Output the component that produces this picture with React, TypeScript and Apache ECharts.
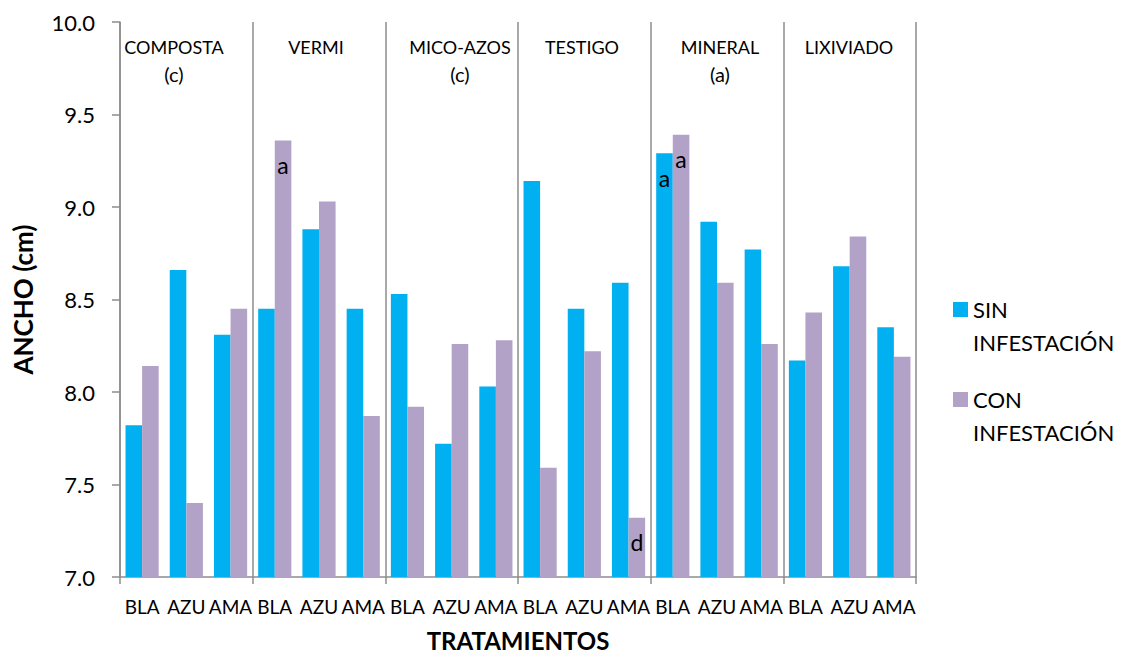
import React, { useEffect, useRef } from "react";
import * as echarts from "echarts";

const categories = ["BLA", "AZU", "AMA", "BLA", "AZU", "AMA", "BLA", "AZU", "AMA", "BLA", "AZU", "AMA", "BLA", "AZU", "AMA", "BLA", "AZU", "AMA"];
const sinValues = [7.82, 8.66, 8.31, 8.45, 8.88, 8.45, 8.53, 7.72, 8.03, 9.14, 8.45, 8.59, 9.29, 8.92, 8.77, 8.17, 8.68, 8.35];
const conValues = [8.14, 7.40, 8.45, 9.36, 9.03, 7.87, 7.92, 8.26, 8.28, 7.59, 8.22, 7.32, 9.39, 8.59, 8.26, 8.43, 8.84, 8.19];
const sinLetters: Record<number, string> = { 12: "a" };
const conLetters: Record<number, string> = { 3: "a", 11: "d", 12: "a" };
const groupNames = ["COMPOSTA", "VERMI", "MICO-AZOS", "TESTIGO", "MINERAL", "LIXIVIADO"];
const groupLetters = ["(c)", "", "(c)", "", "(a)", ""];
const yTicks = ["7.0", "7.5", "8.0", "8.5", "9.0", "9.5", "10.0"];
const seriesNames = ["SIN INFESTACIÓN", "CON INFESTACIÓN"];

const FONT = "Lato";
const SIN_COLOR = "#00B0F0";
const CON_COLOR = "#B3A2C7";
const AXIS_COLOR = "#8c8c8c";

const groupX = [174, 316, 460, 582, 720, 849];

function withLetters(values: number[], letters: Record<number, string>) {
  return values.map((v, i) =>
    letters[i]
      ? {
          value: v,
          label: {
            show: true,
            formatter: letters[i],
            position: "insideTop",
            distance: 13,
            fontSize: 23,
            color: "#000",
            fontFamily: FONT,
          },
        }
      : v
  );
}

export default function App() {
  const ref = useRef<HTMLDivElement>(null);
  useEffect(() => {
    if (!ref.current) return;
    const chart = echarts.init(ref.current, undefined, { renderer: "svg" });
    const graphics: any[] = [];
    groupNames.forEach((g, i) => {
      graphics.push({
        type: "text",
        x: groupX[i],
        y: 47,
        style: { text: g, fontSize: 18, fontFamily: FONT, fill: "#000", textAlign: "center", textVerticalAlign: "middle" },
      });
      if (groupLetters[i]) {
        graphics.push({
          type: "text",
          x: groupX[i],
          y: 74,
          style: { text: groupLetters[i], fontSize: 20, fontFamily: FONT, fill: "#000", textAlign: "center", textVerticalAlign: "middle" },
        });
      }
    });
    const legendCommon = {
      orient: "vertical",
      left: 953,
      padding: 0,
      icon: "rect",
      itemWidth: 15,
      itemHeight: 15,
      selectedMode: false,
      formatter: (n: string) => "\n" + n.replace(" ", "\n"),
      textStyle: { fontSize: 22, fontFamily: FONT, color: "#000", lineHeight: 33 },
    };
    chart.setOption({
      animation: false,
      textStyle: { fontFamily: FONT },
      grid: { left: 120, right: 206, top: 22, bottom: 76, outerBoundsMode: "none", containLabel: false },
      legend: [
        { ...legendCommon, data: [seriesNames[0]], top: 260 },
        { ...legendCommon, data: [seriesNames[1]], top: 350 },
      ],
      xAxis: {
        type: "category",
        data: categories,
        name: "TRATAMIENTOS",
        nameLocation: "middle",
        nameGap: 51,
        nameTextStyle: { fontSize: 24, lineHeight: 24, fontWeight: "bold", color: "#000", fontFamily: FONT },
        axisLine: { lineStyle: { color: AXIS_COLOR, width: 1.5 } },
        axisTick: { show: true, length: 7, interval: (i: number) => i % 3 === 0, lineStyle: { color: AXIS_COLOR, width: 1.5 } },
        splitLine: { show: true, interval: (i: number) => i % 3 === 0, lineStyle: { color: AXIS_COLOR, width: 1.5 } },
        axisLabel: { interval: 0, fontSize: 19, color: "#000", margin: 20, fontFamily: FONT },
      },
      yAxis: {
        type: "value",
        min: 7,
        max: 10,
        interval: 0.5,
        name: "ANCHO (cm)",
        nameLocation: "middle",
        nameGap: 84,
        nameTextStyle: { fontSize: 26, fontWeight: "bold", color: "#000", fontFamily: FONT },
        axisLine: { show: true, lineStyle: { color: AXIS_COLOR, width: 1.5 } },
        axisTick: { show: true, length: 8, lineStyle: { color: AXIS_COLOR, width: 1.5 } },
        splitLine: { show: false },
        axisLabel: {
          fontSize: 22,
          color: "#000",
          margin: 25,
          fontFamily: FONT,
          formatter: (v: number) => yTicks[Math.round((v - 7) / 0.5)] ?? v.toFixed(1),
        },
      },
      series: [
        {
          name: seriesNames[0],
          type: "bar",
          data: withLetters(sinValues, sinLetters),
          itemStyle: { color: SIN_COLOR },
          barGap: "0%",
          barCategoryGap: "25%",
        },
        {
          name: seriesNames[1],
          type: "bar",
          data: withLetters(conValues, conLetters),
          itemStyle: { color: CON_COLOR },
          barGap: "0%",
          barCategoryGap: "25%",
        },
      ],
      graphic: graphics,
    });
    return () => chart.dispose();
  }, []);
  return <div ref={ref} style={{ width: 1122, height: 653, position: "absolute", left: 0, top: 0 }} />;
}
